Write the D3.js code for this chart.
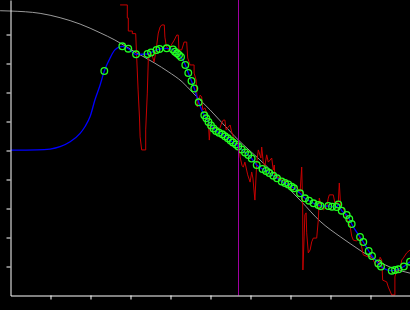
<!DOCTYPE html>
<html>
<head>
<meta charset="utf-8">
<script src="https://cdn.jsdelivr.net/npm/d3@7"></script>
<style>
  html, body { margin: 0; padding: 0; background: #000; }
  svg { display: block; }
</style>
</head>
<body>
<svg id="chart" width="410" height="310"></svg>
<script>
// reference curve (gray)
const refX = [-0.26, 0, 0.74, 1.24, 1.74, 2.24, 2.61, 3.11, 3.61, 3.94, 4.29, 4.56, 4.99, 5.61, 6.44, 7.28, 7.74, 8.24, 8.49, 8.99, 9.49, 9.99];
const refY = [9.82, 9.81, 9.73, 9.58, 9.36, 9.06, 8.81, 8.40, 8.01, 7.72, 7.37, 6.99, 6.40, 5.48, 4.41, 3.23, 2.56, 2.03, 1.79, 1.34, 0.98, 0.77];

// raw measurement (red)
const rawX = [2.74, 2.92, 2.92, 2.945, 2.945, 3.045, 3.045, 3.13, 3.15, 3.19, 3.225, 3.24, 3.28, 3.38, 3.38, 3.42, 3.445, 3.49, 3.54, 3.59,
  3.64, 3.695, 3.74, 3.78, 3.845, 3.86, 3.89, 3.945, 3.99, 4.095, 4.155, 4.195, 4.21, 4.28, 4.34, 4.405, 4.43, 4.49, 4.59, 4.59,
  4.64, 4.655, 4.67, 4.74, 4.78, 4.805, 4.86, 4.905, 4.945, 4.97, 4.99, 5.03, 5.09, 5.155, 5.22, 5.28, 5.32, 5.36, 5.39, 5.445,
  5.49, 5.53, 5.57, 5.655, 5.72, 5.74, 5.79, 5.82, 5.86, 5.93, 5.99, 6.03, 6.06, 6.11, 6.155, 6.195, 6.26, 6.28, 6.32, 6.36,
  6.405, 6.445, 6.49, 6.53, 6.57, 6.595, 6.61, 6.74, 6.82, 6.905, 6.99, 7.07, 7.155, 7.24, 7.28, 7.305, 7.31, 7.34, 7.36, 7.39,
  7.405, 7.445, 7.49, 7.53, 7.57, 7.655, 7.695, 7.72, 7.76, 7.82, 7.905, 7.945, 7.97, 8.07, 8.11, 8.195, 8.22, 8.255, 8.32, 8.405,
  8.49, 8.53, 8.57, 8.655, 8.74, 8.78, 8.82, 8.945, 8.99, 9.07, 9.155, 9.22, 9.24, 9.28, 9.305, 9.405, 9.445, 9.53, 9.61, 9.61,
  9.655, 9.74, 9.78, 9.82, 9.905, 9.99];
const rawY = [10.02, 10.02, 9.57, 9.57, 9.12, 9.12, 9.03, 9.03, 8.36, 7.09, 6.12, 5.47, 5.02, 5.02, 5.71, 6.98, 8.12, 8.40, 8.29, 8.05,
  8.47, 9.05, 9.26, 9.33, 9.33, 8.91, 8.64, 8.47, 8.57, 8.81, 8.98, 8.98, 8.47, 8.47, 8.74, 8.74, 8.19, 7.95, 7.95, 7.67,
  7.43, 7.09, 6.50, 6.91, 6.85, 6.40, 6.47, 6.29, 6.05, 5.36, 5.71, 5.81, 5.74, 5.81, 5.71, 5.95, 6.05, 6.05, 5.71, 5.81,
  5.88, 5.64, 5.47, 5.29, 5.09, 4.78, 4.47, 4.43, 4.60, 4.16, 3.91, 4.26, 4.05, 3.29, 4.57, 5.02, 4.74, 5.12, 4.57, 4.47,
  4.85, 4.60, 4.67, 4.74, 4.33, 4.50, 4.05, 4.09, 3.91, 3.98, 3.71, 3.64, 3.74, 3.57, 4.43, 3.05, 0.88, 2.02, 2.78, 2.85,
  2.16, 1.47, 1.57, 1.85, 1.98, 1.98, 2.60, 3.36, 3.12, 2.95, 3.05, 3.36, 3.47, 3.47, 3.19, 3.22, 3.88, 3.05, 3.02, 2.67,
  2.40, 2.05, 1.91, 1.88, 2.02, 1.67, 1.40, 1.33, 1.40, 1.22, 0.98, 1.16, 1.32, 1.22, 0.53, 0.47, 0.29, 0.02, 0.02, 0.64,
  0.88, 0.88, 1.22, 1.29, 1.47, 1.57];

// smoothed samples (green circles)
const sampleX = [2.345, 2.795, 2.945, 3.138, 3.425, 3.513, 3.65, 3.725, 3.905, 4.063, 4.113, 4.163, 4.213, 4.263, 4.37, 4.445, 4.525, 4.595, 4.705, 4.845,
  4.895, 4.95, 5.013, 5.075, 5.138, 5.213, 5.295, 5.363, 5.433, 5.5, 5.563, 5.638, 5.695, 5.78, 5.863, 5.945, 6.03, 6.155, 6.3, 6.388,
  6.47, 6.57, 6.663, 6.78, 6.863, 6.945, 7.03, 7.088, 7.238, 7.363, 7.463, 7.575, 7.695, 7.75, 7.945, 8.038, 8.155, 8.195, 8.28, 8.405,
  8.47, 8.53, 8.738, 8.82, 8.955, 9.038, 9.195, 9.263, 9.53, 9.613, 9.7, 9.833, 9.988];
const sampleY = [7.741, 8.593, 8.510, 8.317, 8.328, 8.379, 8.466, 8.500, 8.524, 8.483, 8.407, 8.352, 8.293, 8.224, 7.948, 7.672, 7.397, 7.138, 6.662, 6.214,
  6.110, 5.983, 5.862, 5.759, 5.672, 5.614, 5.559, 5.490, 5.421, 5.345, 5.276, 5.207, 5.138, 5.034, 4.931, 4.845, 4.724, 4.500, 4.362, 4.293,
  4.224, 4.131, 4.041, 3.931, 3.879, 3.828, 3.752, 3.697, 3.524, 3.352, 3.269, 3.179, 3.121, 3.086, 3.086, 3.062, 3.052, 3.138, 2.924, 2.776,
  2.638, 2.466, 2.017, 1.845, 1.534, 1.362, 1.103, 1.000, 0.855, 0.879, 0.903, 1.000, 1.166];

// rising start of the fitted curve (blue), before the first samples
const riseX = [0, 0.66, 0.99, 1.24, 1.49, 1.74, 1.86, 1.99, 2.11, 2.24];
const riseY = [5.01, 5.02, 5.05, 5.13, 5.30, 5.59, 5.82, 6.17, 6.74, 7.26];
const bendX = [2.49, 2.61];
const bendY = [8.19, 8.47];

const markerX = 5.7;
const xTicks = [1, 2, 3, 4, 5, 6, 7, 8, 9];
const yTicks = [1, 2, 3, 4, 5, 6, 7, 8, 9];

const width = 410;
const height = 310;
const svg = d3.select("#chart");

const x = d3.scaleLinear().domain([0, 10]).range([10.5, 410.5]);
const y = d3.scaleLinear().domain([0, 10.19]).range([295.5, 0]);

const zip = (xs, ys) => xs.map((d, i) => [d, ys[i]]);

const refData = zip(refX, refY);
const rawData = zip(rawX, rawY);
const samples = zip(sampleX, sampleY);

// blue line: rise, first sample, bend, then through every remaining sample
const fitData = zip(riseX, riseY)
  .concat([samples[0]])
  .concat(zip(bendX, bendY))
  .concat(samples.slice(1));

svg.append("rect")
  .attr("width", width)
  .attr("height", height)
  .attr("fill", "#000");

const path = d3.line().x(d => x(d[0])).y(d => y(d[1]));
const smooth = d3.line().x(d => x(d[0])).y(d => y(d[1])).curve(d3.curveMonotoneX);

svg.append("path")
  .attr("fill", "none")
  .attr("stroke", "#9a9a9a")
  .attr("stroke-width", 1)
  .attr("d", smooth(refData));

svg.append("path")
  .attr("fill", "none")
  .attr("stroke", "#c80000")
  .attr("stroke-width", 1)
  .attr("d", path(rawData));

svg.append("path")
  .attr("fill", "none")
  .attr("stroke", "#0000ff")
  .attr("stroke-width", 1.3)
  .attr("d", smooth(fitData));

svg.append("g")
  .selectAll("circle")
  .data(samples)
  .join("circle")
  .attr("cx", d => x(d[0]))
  .attr("cy", d => y(d[1]))
  .attr("r", 3.3)
  .attr("fill", "none")
  .attr("stroke", "#22ff22")
  .attr("stroke-width", 1.3);

svg.append("line")
  .attr("x1", x(markerX))
  .attr("x2", x(markerX))
  .attr("y1", 0)
  .attr("y2", y(0))
  .attr("stroke", "#a000a0")
  .attr("stroke-width", 1);

// axes, no labels
const yAxis = svg.append("g")
  .attr("transform", `translate(${x(0)},0)`)
  .call(d3.axisLeft(y).tickValues(yTicks).tickSize(4).tickSizeOuter(0).tickFormat(""));

const xAxis = svg.append("g")
  .attr("transform", `translate(0,${y(0)})`)
  .call(d3.axisBottom(x).tickValues(xTicks).tickSize(4).tickSizeOuter(0).tickFormat(""));

[yAxis, xAxis].forEach(g => {
  g.selectAll("path, line").attr("stroke", "#fff").attr("stroke-width", 1);
});
</script>
</body>
</html>
